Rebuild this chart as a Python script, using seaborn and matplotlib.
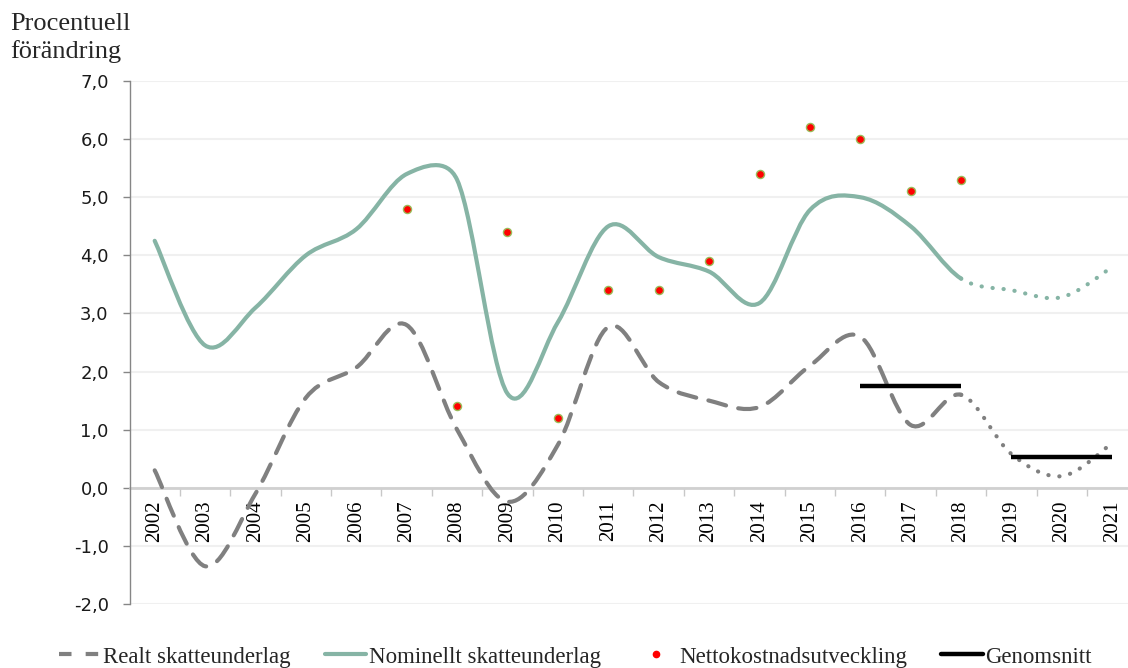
import matplotlib
matplotlib.use("Agg")
import numpy as np
import pandas as pd
import seaborn as sns
import matplotlib.pyplot as plt
from matplotlib.path import Path
from matplotlib.patches import PathPatch
from matplotlib.lines import Line2D
from matplotlib.ticker import FuncFormatter, FixedLocator

# ---------------- data ----------------
years = [str(y) for y in range(2002, 2022)]
nominal = [4.25, 2.45, 3.1, 4.0, 4.45, 5.4, 5.3, 1.62, 2.85, 4.5, 3.97, 3.72,
           3.18, 4.78, 5.0, 4.5, 3.6, 3.4, 3.28, 3.8]
real = [0.3, -1.35, -0.1, 1.55, 2.07, 2.8, 1.0, -0.24, 0.74, 2.77, 1.82, 1.5,
        1.39, 2.1, 2.6, 1.08, 1.6, 0.58, 0.2, 0.77]
netto_years = ["2007", "2008", "2009", "2010", "2011", "2012", "2013", "2014",
               "2015", "2016", "2017", "2018"]
netto = [4.8, 1.4, 4.4, 1.2, 3.4, 3.4, 3.9, 5.4, 6.2, 6.0, 5.1, 5.3]
avg1_years = ["2016", "2018"]
avg1 = [1.76, 1.76]
avg2_years = ["2019", "2021"]
avg2 = [0.53, 0.53]
forecast_start = "2018"
yticks = [-2, -1, 0, 1, 2, 3, 4, 5, 6, 7]

GREEN = "#86b4a5"
GRAY = "#808080"
SERIF = ["Liberation Serif", "DejaVu Serif"]

sns.set_theme(style="white")
plt.rcParams["font.family"] = ["DejaVu Sans"]

fig = plt.figure(figsize=(11.28, 6.68), dpi=100)
ax = fig.add_axes([129.5 / 1128, 64 / 668, 1008 / 1128, 523 / 668])

xpos = {y: i for i, y in enumerate(years)}
XS, YS = 50.4, 58.1  # screen scale used for the smoothing tension


def smooth_path(xs, ys, i0, i1):
    n = len(xs)

    def dist(a, b):
        return np.hypot((xs[a] - xs[b]) * XS, (ys[a] - ys[b]) * YS)

    verts = [(xs[i0], ys[i0])]
    codes = [Path.MOVETO]
    for i in range(i0, i1):
        p0 = i - 1 if i > 0 else i
        p3 = i + 2 if i + 2 < n else i + 1
        d12 = dist(i, i + 1)
        d02 = dist(p0, i + 1)
        d13 = dist(i, p3)
        f1 = 1 / 6
        if d02 / 6 > d12 / 2 and d02 > 0:
            f1 = d12 / (2 * d02)
        f2 = 1 / 6
        if d13 / 6 > d12 / 2 and d13 > 0:
            f2 = d12 / (2 * d13)
        c1 = (xs[i] + f1 * (xs[i + 1] - xs[p0]), ys[i] + f1 * (ys[i + 1] - ys[p0]))
        c2 = (xs[i + 1] - f2 * (xs[p3] - xs[i]), ys[i + 1] - f2 * (ys[p3] - ys[i]))
        verts += [c1, c2, (xs[i + 1], ys[i + 1])]
        codes += [Path.CURVE4] * 3
    return Path(verts, codes)


def draw_series(vals, color, lw, ls_main, ls_fore, z):
    xs = [xpos[y] for y in years]
    k = xpos[forecast_start]
    p1 = PathPatch(smooth_path(xs, vals, 0, k), fill=False, edgecolor=color,
                   lw=lw, linestyle=ls_main, zorder=z)
    p1.set_capstyle("round")
    p2 = PathPatch(smooth_path(xs, vals, k, len(xs) - 1), fill=False,
                   edgecolor=color, lw=lw, linestyle=ls_fore, zorder=z)
    p2.set_capstyle("round")
    ax.add_patch(p1)
    ax.add_patch(p2)


draw_series(real, GRAY, 3.0, (0, (4.4, 3.0)), (0, (0.05, 2.6)), 3)
draw_series(nominal, GREEN, 3.0, "-", (0, (0.05, 2.6)), 3)

# averages
for yrs, vals in [(avg1_years, avg1), (avg2_years, avg2)]:
    d = pd.DataFrame({"x": [xpos[y] for y in yrs], "y": vals})
    sns.lineplot(data=d, x="x", y="y", color="black", lw=3.2, ax=ax, zorder=4,
                 solid_capstyle="butt")

# netto dots
dn = pd.DataFrame({"x": [xpos[y] for y in netto_years], "y": netto})
sns.scatterplot(data=dn, x="x", y="y", color="#ff0000", edgecolor="#9bbb59",
                linewidth=1.0, s=34, ax=ax, zorder=5, legend=False)

ax.set_xlim(-0.5, len(years) - 0.5)
ax.set_ylim(-2, 7)
ax.set_xlabel("")
ax.set_ylabel("")

# spines
for s in ["top", "right"]:
    ax.spines[s].set_visible(False)
ax.spines["left"].set_color("#868686")
ax.spines["left"].set_linewidth(1.0)
ax.spines["bottom"].set_position(("data", 0))
ax.spines["bottom"].set_color("#d0d0d0")
ax.spines["bottom"].set_linewidth(2.0)
ax.spines["bottom"].set_zorder(2)

# ticks
ax.set_xticks(range(len(years)))
ax.set_xticklabels(years)
ax.xaxis.set_minor_locator(FixedLocator(np.arange(0.5, len(years) - 1, 1.0)))
ax.tick_params(axis="x", which="major", length=0, pad=9, colors="black",
               labelrotation=90, labelsize=15, labelfontfamily="Liberation Serif")
ax.tick_params(axis="x", which="minor", length=6, width=1, color="#c8c8c8",
               direction="out", bottom=True)

ax.set_yticks(yticks)
ax.yaxis.set_major_formatter(FuncFormatter(lambda v, p: f"{v:.1f}".replace(".", ",")))
ax.tick_params(axis="y", which="major", length=5, width=1, color="#868686",
               pad=10, labelsize=13, left=True, labelcolor="#1a1a1a")

for lab in ax.get_xticklabels():
    lab.set_fontfamily("Liberation Serif")
    lab.set_verticalalignment("top")
    lab.set_horizontalalignment("center")

ax.yaxis.grid(True, color="#f0f0f0", lw=1.5)
ax.xaxis.grid(False)
ax.set_axisbelow(True)

fig.text(10 / 1128, 1 - 13 / 668, "Procentuell\nförändring", va="top",
         ha="left", fontfamily=SERIF, fontsize=19, linespacing=1.3)

handles = [
    Line2D([], [], color=GRAY, lw=3.0, linestyle=(0, (3.0, 3.4))),
    Line2D([], [], color=GREEN, lw=3.0),
    Line2D([], [], color="#ff0000", marker="o", linestyle="none",
           markersize=4.5, markeredgecolor="#ff0000"),
    Line2D([], [], color="black", lw=3.2),
]
labels = ["Realt skatteunderlag", "Nominellt skatteunderlag",
          "Nettokostnadsutveckling", "Genomsnitt"]
fig.legend(handles, labels, loc="center", bbox_to_anchor=(0.51, 1 - 657 / 668),
           ncol=4, frameon=False, prop={"family": SERIF, "size": 16.5},
           handlelength=1.8, handletextpad=0.12, columnspacing=1.5,
           borderaxespad=0)

fig.savefig("out.png", dpi=100)
